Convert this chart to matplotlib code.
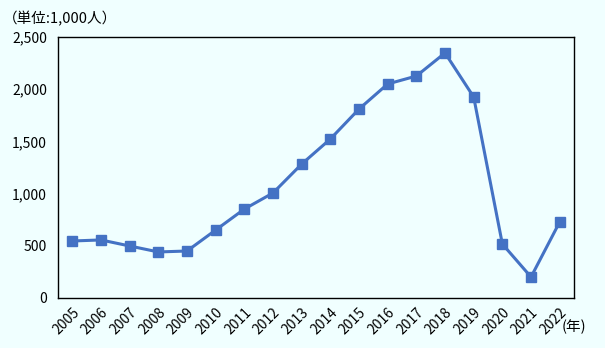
import matplotlib.pyplot as plt

plt.rcParams['font.family'] = ['Noto Sans CJK JP', 'DejaVu Sans']

years = [str(y) for y in range(2005, 2023)]
visitors = [546, 556, 498, 441, 450, 651, 852, 1006, 1283, 1523,
            1810, 2050, 2126, 2347, 1925, 517, 201, 728]
yticks = [0, 500, 1000, 1500, 2000, 2500]
ytick_labels = ["0", "500", "1,000", "1,500", "2,000", "2,500"]

bg = '#F0FFFF'
fig = plt.figure(figsize=(6.05, 3.48), dpi=100, facecolor=bg)
ax = fig.add_axes([0.0959, 0.1437, 0.8529, 0.75])
ax.set_facecolor(bg)

x = range(len(years))
ax.plot(x, visitors, color='#4472C4', linewidth=2.2, marker='s',
        markersize=7, zorder=3)

ax.set_xlim(-0.5, len(years) - 0.5)
ax.set_ylim(0, 2500)
ax.set_yticks(yticks)
ax.set_yticklabels(ytick_labels, fontsize=10)
ax.set_xticks(list(x))
ax.set_xticklabels(years, fontsize=10, rotation=45, ha='right',
                   rotation_mode='anchor')
ax.tick_params(length=0, pad=8)
ax.tick_params(axis='x', pad=5)
for s in ax.spines.values():
    s.set_color('black')
    s.set_linewidth(1)

fig.text(0.005, 0.945, '（単位:1,000人）', fontsize=10.5, ha='left', va='center')
fig.text(0.928, 0.06, '(年)', fontsize=10.5, ha='left', va='center')

fig.savefig('out.png', dpi=100, facecolor=bg)
